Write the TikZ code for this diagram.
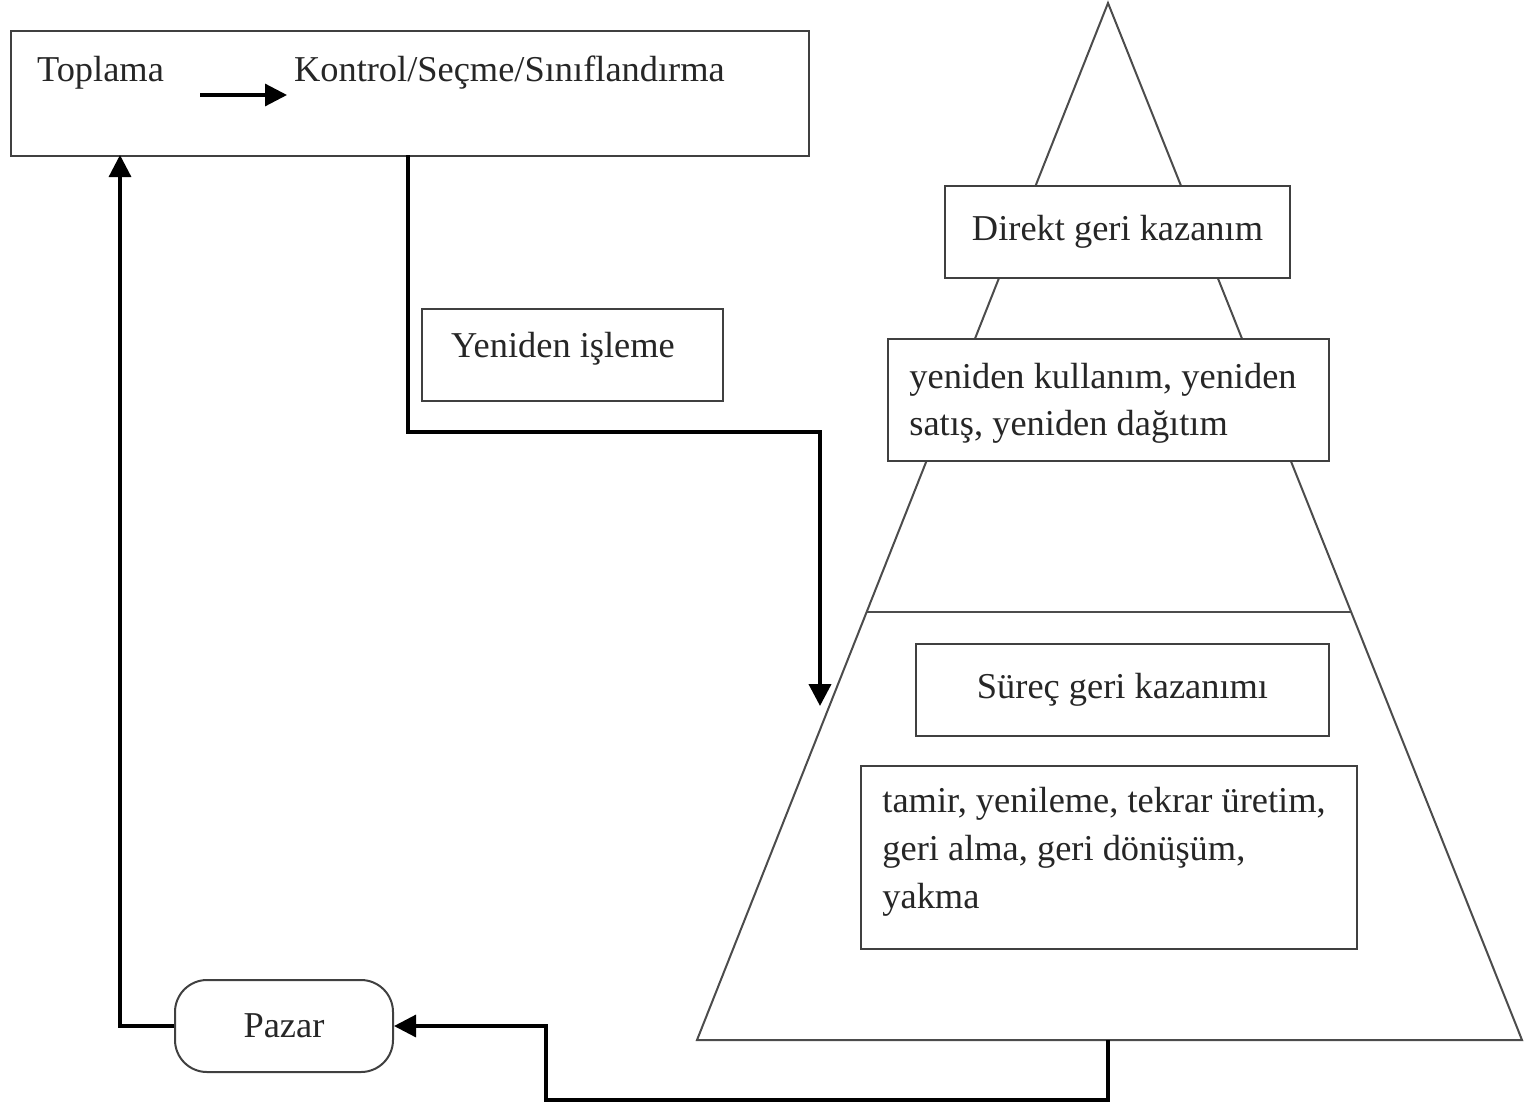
\documentclass[tikz,border=0pt]{standalone}
\usepackage{fontspec}
\setmainfont{Liberation Serif}
\usetikzlibrary{arrows.meta}
\begin{document}
\begin{tikzpicture}[x=0.5pt,y=-0.5pt,
  every node/.style={font=\fontsize{18.2}{23.5}\selectfont, text=black!85},
  box/.style={draw=black!75, line width=1pt, fill=white, anchor=north west, inner sep=0pt},
  tri/.style={draw=black!70, line width=1pt},
  conn/.style={draw=black, line width=1.6pt},
  tip/.style={-{Triangle[length=11pt,width=11pt]}}]
\useasboundingbox (0,0) rectangle (1529,1103);
% top box
\node[box, minimum width=399pt, minimum height=62.5pt] (topbox) at (10,30) {};
\node[anchor=west] (toplama) at (30,73) {Toplama};
\node[anchor=west] (kontrol) at (287,73) {Kontrol/Seçme/Sınıflandırma};
\coordinate (a1) at (200,95);
\coordinate (a2) at (287,95);
\draw[conn, tip] (a1) -- (a2);
% triangle
\coordinate (apex) at (1108,3);
\coordinate (bl) at (697,1040);
\coordinate (br) at (1522,1040);
\coordinate (tribase) at (1108,1040);
\draw[tri] (apex) -- (bl) -- (br) -- cycle;
\coordinate (sl) at (866,612);
\coordinate (sr) at (1351,612);
\draw[tri] (sl) -- (sr);
% boxes in triangle
\node[box, minimum width=172.5pt, minimum height=46pt] (direkt) at (944,185) {};
\node at (direkt.center) {Direkt geri kazanım};
\node[box, minimum width=220.5pt, minimum height=61pt] (yeniden) at (887,338) {};
\node[anchor=north west, align=left, inner sep=0pt] (yenidentxt) at (909,363) {yeniden kullanım, yeniden\\satış, yeniden dağıtım};
\node[box, minimum width=206.5pt, minimum height=46pt] (surec) at (915,643) {};
\node at (surec.center) {Süreç geri kazanımı};
\node[box, minimum width=248pt, minimum height=91.5pt] (tamir) at (860,765) {};
\node[anchor=north west, align=left, inner sep=0pt, font=\fontsize{18.2}{24}\selectfont] (tamirtxt) at (882,787) {tamir, yenileme, tekrar üretim,\\geri alma, geri dönüşüm,\\yakma};
% yeniden isleme
\node[box, minimum width=150.5pt, minimum height=46pt] (isleme) at (421,308) {};
\node[anchor=west] (ismetxt) at (444,349) {Yeniden işleme};
% pazar
\node[draw=black!75, line width=1pt, rounded corners=16pt, minimum width=109pt, minimum height=46pt, inner sep=0pt] (pazar) at (284,1026) {Pazar};
% connectors
\coordinate (topdown) at (408,155);
\coordinate (arrend) at (820,706);
\draw[conn, line width=2pt, tip] (topdown) -- (408,432) -- (820,432) -- (arrend);
\coordinate (turn1) at (1108,1100);
\coordinate (turn2) at (546,1100);
\draw[conn, tip] (tribase) -- (turn1) -- (turn2) -- (546,1026) -- (pazar.east);
\coordinate (topin) at (120,155);
\draw[conn, tip] (pazar.west) -| (topin);
\end{tikzpicture}
\end{document}
